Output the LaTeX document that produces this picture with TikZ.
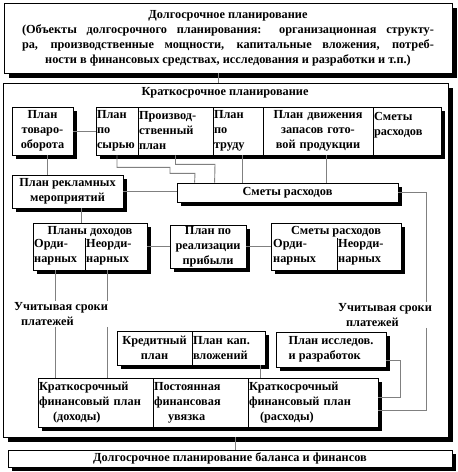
\documentclass[tikz,border=0pt]{standalone}
\usepackage{fontspec}
\setmainfont{Liberation Serif}
\usetikzlibrary{shadows, positioning}

\begin{document}
\begin{tikzpicture}[x=1pt, y=-1pt,
  every node/.style={font=\fontsize{12.3}{15}\selectfont\bfseries, inner sep=1pt},
  box/.style={draw, fill=white, line width=0.8pt,
              drop shadow={shadow xshift=#1, shadow yshift=-#1, fill=black, opacity=1}},
  box/.default=4pt,
  cell/.style={draw, line width=0.6pt, inner xsep=1pt, inner ysep=0pt},
  ln/.style={draw=gray, line width=0.9pt},
  lbl/.style={align=left, fill=white, inner sep=1pt}
]
  \useasboundingbox (0,0) rectangle (458,472);

  % ---- long-term planning on top, short-term frame below it ----
  \node[box=5pt, minimum width=448pt, minimum height=70pt, align=center] (top) at (228,38)
    {Долгосрочное планирование\\
     \makebox[412pt][s]{(Объекты долгосрочного планирования: организационная структу-}\\
     \makebox[412pt][s]{ра, производственные мощности, капитальные вложения, потреб-}\\
     ности в финансовых средствах, исследования и разработки и т.п.)};
  \node[box=5pt, minimum width=445pt, minimum height=354pt] (frame) at (225.5,260) {};
  \node (frt) at (225,92.5) {Краткосрочное планирование};

  % ---- first row: sales plan and the five-part plan ----
  \node[box, minimum width=61pt, minimum height=48pt, align=center] (tovar) at (42.5,131)
    {План\\товаро-\\оборота};
  \node[box, minimum width=345pt, minimum height=48pt] (plans) at (268.5,131) {};
  \node[cell, minimum height=48pt, text width=40pt, align=left]   (syr)   at (117,131)   {План\\по\\сырью};
  \node[cell, minimum height=48pt, text width=73pt, align=left]   (proiz) at (175.5,131) {Производ-\\ственный\\план};
  \node[cell, minimum height=48pt, text width=48pt, align=left]   (trud)  at (238,131)   {План\\по\\труду};
  \node[cell, minimum height=48pt, text width=108pt, align=center] (zapas) at (318,131)  {План движения\\запасов гото-\\вой продукции};
  \node[cell, minimum height=48pt, text width=66pt, align=left]   (smet1) at (407,131)   {Сметы\\расходов\\\mbox{}};

  % ---- second row: advertising and expenses ----
  \node[box, minimum width=111pt, minimum height=33pt, align=center] (rekl) at (67.5,191.5)
    {План рекламных\\мероприятий};
  \node[box, minimum width=221pt, minimum height=19pt] (smeta) at (287.5,192.5) {Сметы расходов};

  % ---- third row: income, profit, expenses ----
  \node[box, minimum width=114pt, minimum height=47pt] (dohod) at (90,246.5) {};
  \node (doht) at (90,231.5) {Планы доходов};
  \node[anchor=north west, align=left] (dord) at (33,238) {Орди-\\нарных};
  \node[anchor=north west, align=left] (dneord) at (85,238) {Неорди-\\нарных};
  \draw[line width=0.6pt] (dneord.north west) -- (dneord.north west |- dohod.south);

  \node[box, minimum width=76pt, minimum height=43pt, align=center] (realiz) at (208,246.5)
    {План по\\реализации\\прибыли};

  \node[box, minimum width=130pt, minimum height=47pt] (smrash) at (336,246.5) {};
  \node (smrt) at (336,232) {Сметы расходов};
  \node[anchor=north west, align=left] (sord) at (272,238) {Орди-\\нарных};
  \node[anchor=north west, align=left] (sneord) at (337,238) {Неорди-\\нарных};
  \draw[line width=0.6pt] (sneord.north west) -- (sneord.north west |- smrash.south);

  % ---- payment terms ----
  \node[lbl] (lab1) at (61,314) {Учитывая сроки\\\hspace*{7pt}платежей};
  \node[lbl] (lab2) at (385,315) {Учитывая сроки\\\hspace*{8pt}платежей};
  \coordinate (rx) at (426,0);

  % ---- credit, investment, research ----
  \node[box, minimum width=148pt, minimum height=34pt] (kred) at (191,348) {};
  \node[cell, minimum height=34pt, text width=73pt, align=center] (kredp) at (154.5,348) {Кредитный\\план};
  \node[cell, minimum height=34pt, text width=71pt, align=left]   (kapvl) at (228.5,348) {План кап.\\вложений};
  \node[box, minimum width=110pt, minimum height=35pt, align=left] (issl) at (331,349.5)
    {План исследов.\\и разработок\hspace*{10pt}};

  % ---- short-term financial plan ----
  \node[box, minimum width=340pt, minimum height=49pt] (fin) at (208,402.5) {};
  \node[cell, minimum height=49pt, text width=113pt, align=left] (findoh) at (95.5,402.5)
    {Краткосрочный\\финансовый план\\\hspace*{14pt}(доходы)};
  \node[cell, minimum height=49pt, text width=93pt, align=left]  (uvyaz)  at (200.5,402.5)
    {Постоянная\\финансовая\\\hspace*{14pt}увязка};
  \node[cell, minimum height=49pt, text width=128pt, align=left] (finras) at (313,402.5)
    {Краткосрочный\\финансовый план\\\hspace*{11pt}(расходы)};

  % ---- long-term balance plan at the bottom ----
  \node[box, minimum width=444pt, minimum height=17pt] (bot) at (230,458.5)
    {Долгосрочное планирование баланса и финансов};

  % ---- connectors ----
  \draw[ln] ([xshift=-10pt]top.south) -- ([xshift=-10pt]top.south |- frame.north);
  \draw[ln] (tovar.east) -- (tovar.east -| plans.west);
  \draw[ln] ([xshift=5pt]tovar.south) -- ([xshift=5pt]tovar.south |- rekl.north);
  \draw[ln] (syr.south) |- ++(53,12) |- ++(25,6) -- ([xshift=18pt]smeta.north west);
  \draw[ln] (proiz.south) |- ++(39.5,9) -- ([xshift=38pt]smeta.north west);
  \draw[ln] ([xshift=4pt]trud.south) -- ([xshift=4pt]trud.south |- smeta.north);
  \draw[ln] ([xshift=8pt]zapas.south) -- ([xshift=8pt]zapas.south |- smeta.north);
  \draw[ln] (rekl.east) -- (rekl.east -| smeta.west);
  \draw[ln] ([xshift=14pt]rekl.south) -- ([xshift=14pt]rekl.south |- dohod.north);
  \draw[ln] (dohod.east) -- (dohod.east -| realiz.west);
  \draw[ln] (realiz.east) -- (realiz.east -| smrash.west);

  % ---- expenses to the right, then down to the financial plan ----
  \draw[ln] (smeta.east) -| (lab2.north -| rx);
  \draw[ln] (lab2.south -| rx) |- ([yshift=-7.5pt]fin.east);

  % ---- income down to the financial plan ----
  \coordinate (d1) at ([xshift=-35pt]dohod.south);
  \coordinate (d2) at ([xshift=17pt]dohod.south);
  \draw[ln] (d1) -- (d1 |- lab1.north);
  \draw[ln] (d1 |- lab1.south) -- (d1 |- fin.north);
  \draw[ln] (d2) -- (d2 |- lab1.north);
  \draw[ln] (d2 |- lab1.south) -- (d2 |- fin.north);

  \draw[ln] ([xshift=-5pt]kred.south east) -- ([xshift=-5pt]kred.south east |- fin.north);
  \draw[ln] ([yshift=-10.5pt]issl.east) -- ++(14,0) |- ([yshift=5.5pt]fin.east);
  \draw[ln] ([xshift=10pt]frame.south) -- ([xshift=10pt]frame.south |- bot.north);
\end{tikzpicture}
\end{document}
